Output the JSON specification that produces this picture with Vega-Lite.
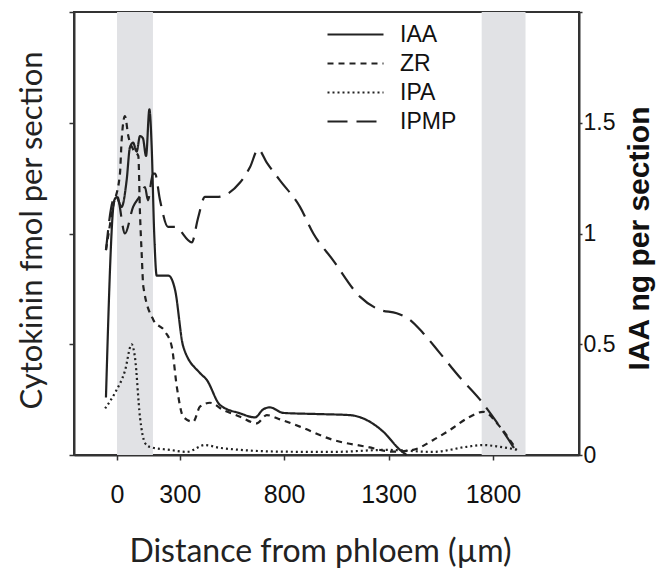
{
  "$schema": "https://vega.github.io/schema/vega-lite/v6.json",
  "width": 505,
  "height": 443,
  "autosize": {"type": "none"},
  "padding": {"left": 74, "top": 12, "right": 78, "bottom": 115},
  "background": "white",
  "config": {
    "view": {"stroke": "#333", "strokeWidth": 2},
    "axis": {"domainColor": "#333", "domainWidth": 2, "tickColor": "#333", "tickWidth": 1.5, "grid": false, "labelColor": "#111", "titleColor": "#222"},
    "legend": {"symbolStrokeColor": "#222"}
  },
  "datasets": {
    "bands": [
      {"start": 0, "end": 172},
      {"start": 1746, "end": 1956}
    ],
    "cyto": [
      {"series": "ZR", "x": -53, "y": 0.925},
      {"series": "ZR", "x": -19, "y": 1.12},
      {"series": "ZR", "x": 14, "y": 1.27},
      {"series": "ZR", "x": 22, "y": 1.42},
      {"series": "ZR", "x": 38, "y": 1.53},
      {"series": "ZR", "x": 54, "y": 1.44},
      {"series": "ZR", "x": 77, "y": 1.38},
      {"series": "ZR", "x": 102, "y": 1.35},
      {"series": "ZR", "x": 110, "y": 1.09},
      {"series": "ZR", "x": 118, "y": 0.91},
      {"series": "ZR", "x": 126, "y": 0.76},
      {"series": "ZR", "x": 174, "y": 0.61},
      {"series": "ZR", "x": 230, "y": 0.557},
      {"series": "ZR", "x": 262, "y": 0.49},
      {"series": "ZR", "x": 286, "y": 0.31},
      {"series": "ZR", "x": 317, "y": 0.173},
      {"series": "ZR", "x": 365, "y": 0.15},
      {"series": "ZR", "x": 397, "y": 0.218},
      {"series": "ZR", "x": 445, "y": 0.236},
      {"series": "ZR", "x": 509, "y": 0.203},
      {"series": "ZR", "x": 589, "y": 0.173},
      {"series": "ZR", "x": 669, "y": 0.143},
      {"series": "ZR", "x": 717, "y": 0.18},
      {"series": "ZR", "x": 780, "y": 0.161},
      {"series": "ZR", "x": 876, "y": 0.128},
      {"series": "ZR", "x": 1035, "y": 0.068},
      {"series": "ZR", "x": 1195, "y": 0.037},
      {"series": "ZR", "x": 1323, "y": 0.015},
      {"series": "ZR", "x": 1418, "y": 0.023},
      {"series": "ZR", "x": 1514, "y": 0.068},
      {"series": "ZR", "x": 1594, "y": 0.113},
      {"series": "ZR", "x": 1690, "y": 0.173},
      {"series": "ZR", "x": 1753, "y": 0.195},
      {"series": "ZR", "x": 1833, "y": 0.128},
      {"series": "ZR", "x": 1913, "y": 0.023},
      {"series": "IPA", "x": -57, "y": 0.21},
      {"series": "IPA", "x": -10, "y": 0.28},
      {"series": "IPA", "x": 38, "y": 0.38},
      {"series": "IPA", "x": 70, "y": 0.5},
      {"series": "IPA", "x": 86, "y": 0.44},
      {"series": "IPA", "x": 110, "y": 0.17},
      {"series": "IPA", "x": 134, "y": 0.054},
      {"series": "IPA", "x": 158, "y": 0.036},
      {"series": "IPA", "x": 254, "y": 0.023},
      {"series": "IPA", "x": 334, "y": 0.014},
      {"series": "IPA", "x": 421, "y": 0.045},
      {"series": "IPA", "x": 493, "y": 0.032},
      {"series": "IPA", "x": 795, "y": 0.015},
      {"series": "IPA", "x": 1034, "y": 0.014},
      {"series": "IPA", "x": 1291, "y": 0.023},
      {"series": "IPA", "x": 1513, "y": 0.014},
      {"series": "IPA", "x": 1674, "y": 0.037},
      {"series": "IPA", "x": 1752, "y": 0.045},
      {"series": "IPA", "x": 1833, "y": 0.037},
      {"series": "IPA", "x": 1920, "y": 0.023},
      {"series": "IPMP", "x": -53, "y": 0.925},
      {"series": "IPMP", "x": -19, "y": 1.15},
      {"series": "IPMP", "x": 0, "y": 1.17},
      {"series": "IPMP", "x": 38, "y": 1.0},
      {"series": "IPMP", "x": 77, "y": 1.12},
      {"series": "IPMP", "x": 110, "y": 1.17},
      {"series": "IPMP", "x": 134, "y": 1.21},
      {"series": "IPMP", "x": 148, "y": 1.15},
      {"series": "IPMP", "x": 172, "y": 1.27},
      {"series": "IPMP", "x": 182, "y": 1.27},
      {"series": "IPMP", "x": 206, "y": 1.15},
      {"series": "IPMP", "x": 244, "y": 1.03},
      {"series": "IPMP", "x": 278, "y": 1.03},
      {"series": "IPMP", "x": 358, "y": 0.96},
      {"series": "IPMP", "x": 388, "y": 1.07},
      {"series": "IPMP", "x": 421, "y": 1.165},
      {"series": "IPMP", "x": 477, "y": 1.165},
      {"series": "IPMP", "x": 589, "y": 1.23},
      {"series": "IPMP", "x": 637, "y": 1.3},
      {"series": "IPMP", "x": 676, "y": 1.38},
      {"series": "IPMP", "x": 717, "y": 1.32},
      {"series": "IPMP", "x": 780, "y": 1.24},
      {"series": "IPMP", "x": 876, "y": 1.12},
      {"series": "IPMP", "x": 940, "y": 1.0},
      {"series": "IPMP", "x": 1034, "y": 0.88},
      {"series": "IPMP", "x": 1163, "y": 0.715},
      {"series": "IPMP", "x": 1259, "y": 0.655},
      {"series": "IPMP", "x": 1339, "y": 0.64},
      {"series": "IPMP", "x": 1403, "y": 0.61},
      {"series": "IPMP", "x": 1466, "y": 0.55},
      {"series": "IPMP", "x": 1546, "y": 0.46},
      {"series": "IPMP", "x": 1642, "y": 0.35},
      {"series": "IPMP", "x": 1738, "y": 0.25},
      {"series": "IPMP", "x": 1833, "y": 0.128},
      {"series": "IPMP", "x": 1897, "y": 0.037},
      {"series": "IPMP", "x": 1921, "y": 0.0}
    ],
    "iaa": [
      {"series": "IAA", "x": -53, "y": 0.26},
      {"series": "IAA", "x": -13, "y": 1.15},
      {"series": "IAA", "x": -1, "y": 1.165},
      {"series": "IAA", "x": 6, "y": 1.15},
      {"series": "IAA", "x": 22, "y": 1.12},
      {"series": "IAA", "x": 46, "y": 1.24},
      {"series": "IAA", "x": 62, "y": 1.39},
      {"series": "IAA", "x": 77, "y": 1.41},
      {"series": "IAA", "x": 94, "y": 1.37},
      {"series": "IAA", "x": 110, "y": 1.44},
      {"series": "IAA", "x": 124, "y": 1.43},
      {"series": "IAA", "x": 139, "y": 1.35},
      {"series": "IAA", "x": 155, "y": 1.56},
      {"series": "IAA", "x": 166, "y": 1.39},
      {"series": "IAA", "x": 178, "y": 1.0},
      {"series": "IAA", "x": 190, "y": 0.81},
      {"series": "IAA", "x": 246, "y": 0.81},
      {"series": "IAA", "x": 278, "y": 0.745},
      {"series": "IAA", "x": 317, "y": 0.49},
      {"series": "IAA", "x": 397, "y": 0.37},
      {"series": "IAA", "x": 429, "y": 0.34},
      {"series": "IAA", "x": 493, "y": 0.226},
      {"series": "IAA", "x": 589, "y": 0.188},
      {"series": "IAA", "x": 661, "y": 0.17},
      {"series": "IAA", "x": 700, "y": 0.206},
      {"series": "IAA", "x": 732, "y": 0.215},
      {"series": "IAA", "x": 796, "y": 0.19},
      {"series": "IAA", "x": 956, "y": 0.185},
      {"series": "IAA", "x": 1115, "y": 0.18},
      {"series": "IAA", "x": 1195, "y": 0.158},
      {"series": "IAA", "x": 1275, "y": 0.105},
      {"series": "IAA", "x": 1355, "y": 0.023},
      {"series": "IAA", "x": 1387, "y": 0.0}
    ]
  },
  "resolve": {"scale": {"y": "shared"}, "axis": {"y": "independent"}},
  "layer": [
    {
      "data": {"name": "bands"},
      "mark": {"type": "rect", "color": "#e1e2e5"},
      "encoding": {
        "x": {"field": "start", "type": "quantitative", "scale": {"domain": [-206, 2212], "nice": false, "zero": false},
          "axis": {"values": [0, 300, 800, 1300, 1800], "format": "d", "title": "Distance from phloem (µm)", "tickSize": 5, "labelPadding": 22, "labelFont": "Liberation Sans", "labelFontSize": 25, "titleFont": "Lato", "titleFontSize": 32, "titleFontWeight": "normal", "titleX": 246, "titleY": 96, "titleBaseline": "middle"}},
        "x2": {"field": "end"}
      }
    },
    {
      "data": {"name": "cyto"},
      "mark": {"type": "line", "interpolate": "monotone"},
      "encoding": {
        "x": {"field": "x", "type": "quantitative"},
        "y": {"field": "y", "type": "quantitative", "scale": {"domain": [0, 2], "nice": false},
          "axis": {"orient": "left", "values": [0, 0.5, 1, 1.5, 2], "labels": false, "tickSize": 5, "title": "Cytokinin fmol per section", "titleFont": "Lato", "titleFontSize": 31, "titleFontWeight": "normal", "titleAngle": -90, "titleX": -42, "titleY": 218, "titleBaseline": "middle", "titleAlign": "center"}},
        "detail": {"field": "series"},
        "color": {"value": "#222"},
        "strokeDash": {"field": "series", "type": "nominal",
          "scale": {"domain": ["IAA", "ZR", "IPA", "IPMP"], "range": [[1, 0], [6, 5], [2, 3], [20, 9]]},
          "legend": {"title": null, "orient": "none", "legendX": 266, "legendY": 7, "symbolType": "M-2,0H2", "symbolSize": 784, "symbolStrokeWidth": 2.2, "labelFont": "Liberation Sans", "labelFontSize": 23, "labelColor": "#111", "labelOffset": 29, "rowPadding": 1}},
        "strokeWidth": {"field": "series", "type": "nominal", "scale": {"domain": ["IAA", "ZR", "IPA", "IPMP"], "range": [2.2, 2.2, 1.8, 2.5]}, "legend": null}
      }
    },
    {
      "data": {"name": "iaa"},
      "mark": {"type": "line", "interpolate": "monotone"},
      "encoding": {
        "x": {"field": "x", "type": "quantitative"},
        "y": {"field": "y", "type": "quantitative", "scale": {"domain": [0, 2], "nice": false},
          "axis": {"orient": "right", "values": [0, 0.5, 1, 1.5, 2], "labelExpr": "datum.value >= 2 ? '' : '' + datum.value", "tickSize": 3, "labelPadding": 1, "labelFont": "Liberation Sans", "labelFontSize": 23, "title": "IAA ng per section", "titleFont": "Liberation Sans", "titleFontSize": 30, "titleFontWeight": "bold", "titleColor": "#111", "titleAngle": -90, "titleX": 60, "titleY": 226, "titleBaseline": "middle", "titleAlign": "center"}},
        "color": {"value": "#222"},
        "strokeDash": {"field": "series", "type": "nominal", "scale": {"domain": ["IAA", "ZR", "IPA", "IPMP"], "range": [[1, 0], [6, 5], [2, 3], [20, 9]]}},
        "strokeWidth": {"field": "series", "type": "nominal", "scale": {"domain": ["IAA", "ZR", "IPA", "IPMP"], "range": [2.2, 2.2, 1.8, 2.5]}, "legend": null}
      }
    }
  ]
}
